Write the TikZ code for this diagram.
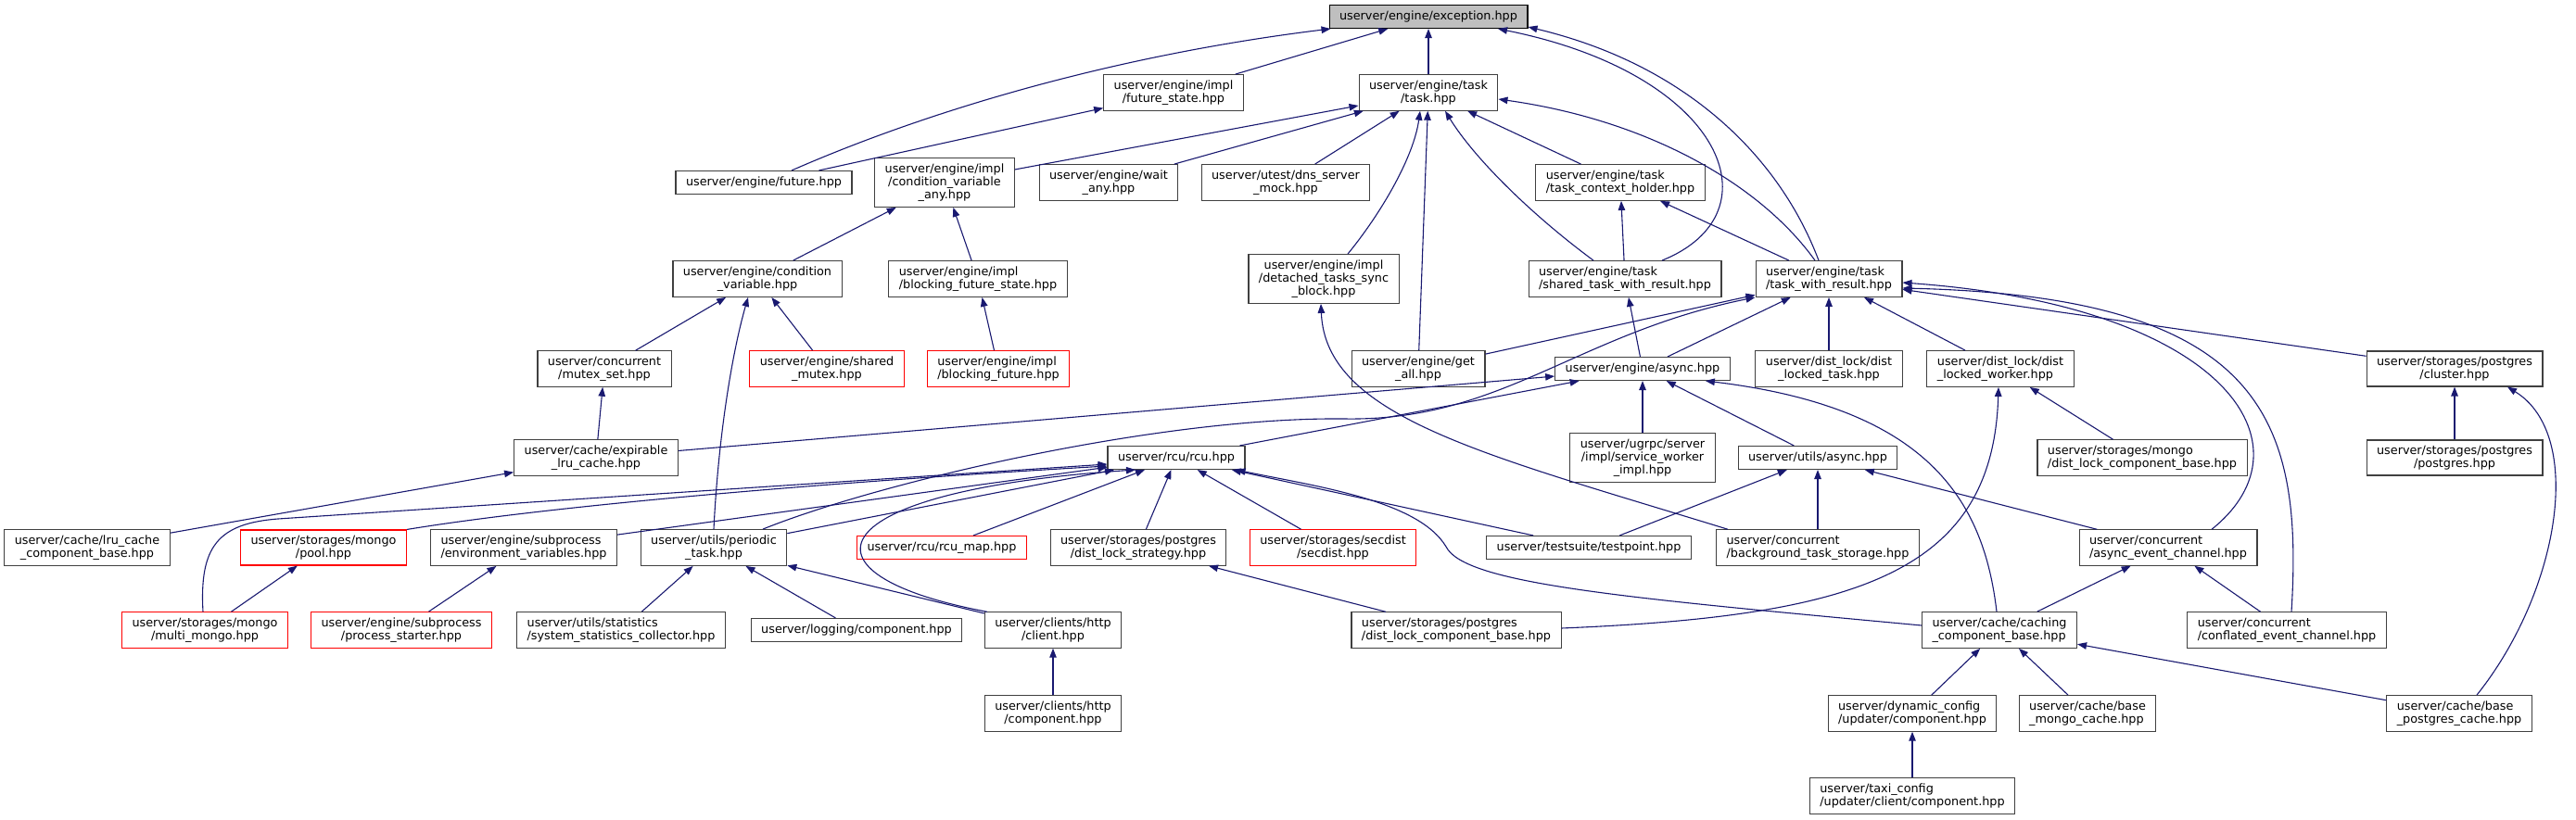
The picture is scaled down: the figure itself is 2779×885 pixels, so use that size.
\documentclass[tikz,border=0pt]{standalone}
\usepackage{fontspec}
\setmainfont{DejaVu Sans}
\usetikzlibrary{arrows.meta,positioning}
\definecolor{EdgeBlue}{RGB}{25,25,112}
\definecolor{BoxGray}{RGB}{191,191,191}
\definecolor{BoxLine}{RGB}{64,64,64}
\definecolor{MissRed}{RGB}{255,0,0}
\tikzset{
  hbox/.style={draw=BoxLine,fill=white,line width=1.1pt,align=center,
               font=\fontsize{12.8}{14}\selectfont,inner xsep=11pt,inner ysep=6pt,
               minimum height=25pt},
  lbox/.style={hbox,align=left},
  rbox/.style={draw=MissRed},
  gbox/.style={draw=black,fill=BoxGray},
  arr/.style={-{Triangle[length=10pt,width=7.5pt]},EdgeBlue,line width=1.1pt},
}

\begin{document}
\begin{tikzpicture}[x=1pt,y=-1pt]
  \useasboundingbox (0,0) rectangle (2779,885);
  \node[hbox,gbox] (exc) at (1541,18) {userver/engine/exception.hpp};
  \node[hbox] (fstate) at (1266,100) {userver/engine/impl\\/future\_state.hpp};
  \node[hbox] (task) at (1541,100) {userver/engine/task\\/task.hpp};
  \node[hbox] (fut) at (824,197) {userver/engine/future.hpp};
  \node[hbox] (cva) at (1019,197) {userver/engine/impl\\/condition\_variable\\\_any.hpp};
  \node[hbox] (waitany) at (1196,197) {userver/engine/wait\\\_any.hpp};
  \node[hbox] (dnsmock) at (1387,197) {userver/utest/dns\_server\\\_mock.hpp};
  \node[lbox] (tch) at (1748,197) {userver/engine/task\\/task\_context\_holder.hpp};
  \node[hbox] (cv) at (817,301) {userver/engine/condition\\\_variable.hpp};
  \node[lbox] (bfs) at (1055,301) {userver/engine/impl\\/blocking\_future\_state.hpp};
  \node[hbox] (detached) at (1428,301) {userver/engine/impl\\/detached\_tasks\_sync\\\_block.hpp};
  \node[lbox] (sharedtwr) at (1753,301) {userver/engine/task\\/shared\_task\_with\_result.hpp};
  \node[lbox] (twr) at (1973,301) {userver/engine/task\\/task\_with\_result.hpp};
  \node[hbox] (mutexset) at (652,398) {userver/concurrent\\/mutex\_set.hpp};
  \node[hbox,rbox] (sharedmutex) at (892,398) {userver/engine/shared\\\_mutex.hpp};
  \node[lbox,rbox] (bfut) at (1077,398) {userver/engine/impl\\/blocking\_future.hpp};
  \node[hbox] (getall) at (1530,398) {userver/engine/get\\\_all.hpp};
  \node[hbox] (async) at (1772,398) {userver/engine/async.hpp};
  \node[hbox] (dltask) at (1973,398) {userver/dist\_lock/dist\\\_locked\_task.hpp};
  \node[lbox] (dlworker) at (2158,398) {userver/dist\_lock/dist\\\_locked\_worker.hpp};
  \node[hbox] (cluster) at (2648,398) {userver/storages/postgres\\/cluster.hpp};
  \node[hbox] (expirable) at (643,494) {userver/cache/expirable\\\_lru\_cache.hpp};
  \node[hbox] (rcu) at (1269,494) {userver/rcu/rcu.hpp};
  \node[hbox] (ugrpc) at (1772,494) {userver/ugrpc/server\\/impl/service\_worker\\\_impl.hpp};
  \node[hbox] (uasync) at (1961,494) {userver/utils/async.hpp};
  \node[lbox] (mongodl) at (2311,494) {userver/storages/mongo\\/dist\_lock\_component\_base.hpp};
  \node[hbox] (postgres) at (2648,494) {userver/storages/postgres\\/postgres.hpp};
  \node[hbox] (lrucache) at (94,591) {userver/cache/lru\_cache\\\_component\_base.hpp};
  \node[hbox,rbox] (pool) at (349,591) {userver/storages/mongo\\/pool.hpp};
  \node[lbox] (envvars) at (565,591) {userver/engine/subprocess\\/environment\_variables.hpp};
  \node[hbox] (periodic) at (770,591) {userver/utils/periodic\\\_task.hpp};
  \node[hbox,rbox] (rcumap) at (1016,591) {userver/rcu/rcu\_map.hpp};
  \node[hbox] (dlstrategy) at (1228,591) {userver/storages/postgres\\/dist\_lock\_strategy.hpp};
  \node[hbox,rbox] (secdist) at (1438,591) {userver/storages/secdist\\/secdist.hpp};
  \node[hbox] (testpoint) at (1714,591) {userver/testsuite/testpoint.hpp};
  \node[lbox] (bgstorage) at (1961,591) {userver/concurrent\\/background\_task\_storage.hpp};
  \node[lbox] (aec) at (2339,591) {userver/concurrent\\/async\_event\_channel.hpp};
  \node[hbox,rbox] (multimongo) at (221,680) {userver/storages/mongo\\/multi\_mongo.hpp};
  \node[hbox,rbox] (procstarter) at (433,680) {userver/engine/subprocess\\/process\_starter.hpp};
  \node[lbox] (sysstats) at (670,680) {userver/utils/statistics\\/system\_statistics\_collector.hpp};
  \node[hbox] (logcomp) at (924,680) {userver/logging/component.hpp};
  \node[hbox] (httpclient) at (1136,680) {userver/clients/http\\/client.hpp};
  \node[lbox] (pgdl) at (1571,680) {userver/storages/postgres\\/dist\_lock\_component\_base.hpp};
  \node[lbox] (caching) at (2157,680) {userver/cache/caching\\\_component\_base.hpp};
  \node[lbox] (conflated) at (2467,680) {userver/concurrent\\/conflated\_event\_channel.hpp};
  \node[hbox] (httpcomp) at (1136,770) {userver/clients/http\\/component.hpp};
  \node[lbox] (dynconf) at (2063,770) {userver/dynamic\_config\\/updater/component.hpp};
  \node[lbox] (basemongo) at (2252,770) {userver/cache/base\\\_mongo\_cache.hpp};
  \node[lbox] (basepg) at (2653,770) {userver/cache/base\\\_postgres\_cache.hpp};
  \node[lbox] (taxicfg) at (2063,859) {userver/taxi\_config\\/updater/client/component.hpp};

  \draw[arr] (fut) -- (fstate);
  \draw[arr] (fstate) -- (exc);
  \draw[arr] (task) -- (exc);
  \draw[arr] ([xshift=30]fut.north) .. controls (1000,120) and (1200,60) .. ([xshift=2]exc.south west);
  \draw[arr] ([xshift=40]sharedtwr.north) .. controls (1920,230) and (1860,80) .. ([xshift=75]exc.south);
  \draw[arr] ([xshift=-11]twr.north) .. controls (1920,170) and (1820,70) .. ([yshift=2]exc.south east);
  \draw[arr] (cva) -- (task);
  \draw[arr] (waitany) -- (task);
  \draw[arr] (dnsmock) -- (task);
  \draw[arr] (getall) -- (task);
  \draw[arr] (tch) -- (task);
  \draw[arr] ([xshift=26]detached.north) .. controls (1490,230) and (1525,170) .. ([xshift=-9]task.south);
  \draw[arr] ([xshift=-34]sharedtwr.north) .. controls (1650,230) and (1590,170) .. ([xshift=18]task.south);
  \draw[arr] ([xshift=-15]twr.north) .. controls (1900,200) and (1780,130) .. ([yshift=-7]task.east);
  \draw[arr] (cv) -- (cva);
  \draw[arr] (bfs) -- (cva);
  \draw[arr] (sharedtwr) -- (tch);
  \draw[arr] (twr) -- (tch);
  \draw[arr] (mutexset) -- (cv);
  \draw[arr] (sharedmutex) -- (cv);
  \draw[arr] (periodic.north) .. controls (775,470) and (790,380) .. ([xshift=-10]cv.south);
  \draw[arr] (bfut) -- (bfs);
  \draw[arr] ([xshift=-97]bgstorage.north) .. controls (1600,490) and (1430,450) .. ([xshift=-3]detached.south);
  \draw[arr] (async) -- (sharedtwr);
  \draw[arr] (getall) -- (twr);
  \draw[arr] (async) -- (twr);
  \draw[arr] (dltask) -- (twr);
  \draw[arr] (dlworker) -- (twr);
  \draw[arr] (cluster) -- (twr);
  \draw[arr] ([xshift=53]periodic.north) .. controls (950,520) and (1250,450) .. (1450,452)
             .. controls (1620,455) and (1700,360) .. (twr.south west);
  \draw[arr] ([xshift=47]aec.north) .. controls (2500,480) and (2400,330) .. ([yshift=-4]twr.east);
  \draw[arr] ([xshift=5]conflated.north) .. controls (2485,450) and (2440,320) .. ([yshift=-10]twr.east);
  \draw[arr] (expirable) -- (mutexset);
  \draw[arr] (lrucache) -- (expirable);
  \draw[arr] (expirable) -- (async);
  \draw[arr] (rcu) -- (async);
  \draw[arr] (ugrpc) -- (async);
  \draw[arr] (uasync) -- (async);
  \draw[arr] ([xshift=-3]caching.north) .. controls (2140,540) and (2080,440) .. ([xshift=-27]async.south east);
  \draw[arr] (mongodl) -- (dlworker);
  \draw[arr] ([yshift=2]pgdl.east) .. controls (2000,665) and (2150,620) .. ([xshift=-2]dlworker.south);
  \draw[arr] (postgres) -- (cluster);
  \draw[arr] ([xshift=19]basepg.north) .. controls (2760,640) and (2790,470) .. ([xshift=57]cluster.south);
  \draw[arr] (testpoint) -- (uasync);
  \draw[arr] (bgstorage) -- (uasync);
  \draw[arr] (aec) -- (uasync);
  \draw[arr] ([xshift=-2]multimongo.north) .. controls (215,590) and (235,565) .. (300,560) -- ([yshift=-7]rcu.west);
  \draw[arr] (pool.north east) .. controls (600,545) and (900,520) .. ([yshift=-9]rcu.west);
  \draw[arr] (envvars) -- (rcu);
  \draw[arr] (periodic) -- (rcu);
  \draw[arr] ([xshift=3]httpclient.north west) .. controls (850,620) and (880,530) .. ([xshift=-44]rcu.south);
  \draw[arr] (rcumap) -- (rcu);
  \draw[arr] (dlstrategy) -- (rcu);
  \draw[arr] (secdist) -- (rcu);
  \draw[arr] (testpoint) -- (rcu);
  \draw[arr] ([yshift=5]caching.west) .. controls (1750,645) and (1580,630) .. (1560,590)
             .. controls (1530,540) and (1420,525) .. ([xshift=-10]rcu.south east);
  \draw[arr] (multimongo) -- (pool);
  \draw[arr] (procstarter) -- (envvars);
  \draw[arr] (sysstats) -- (periodic);
  \draw[arr] (logcomp) -- (periodic);
  \draw[arr] (httpclient) -- (periodic);
  \draw[arr] (httpcomp) -- (httpclient);
  \draw[arr] (pgdl) -- (dlstrategy);
  \draw[arr] (caching) -- (aec);
  \draw[arr] (conflated) -- (aec);
  \draw[arr] (dynconf) -- (caching);
  \draw[arr] (basemongo) -- (caching);
  \draw[arr] (basepg) -- (caching);
  \draw[arr] (taxicfg) -- (dynconf);
\end{tikzpicture}
\end{document}
